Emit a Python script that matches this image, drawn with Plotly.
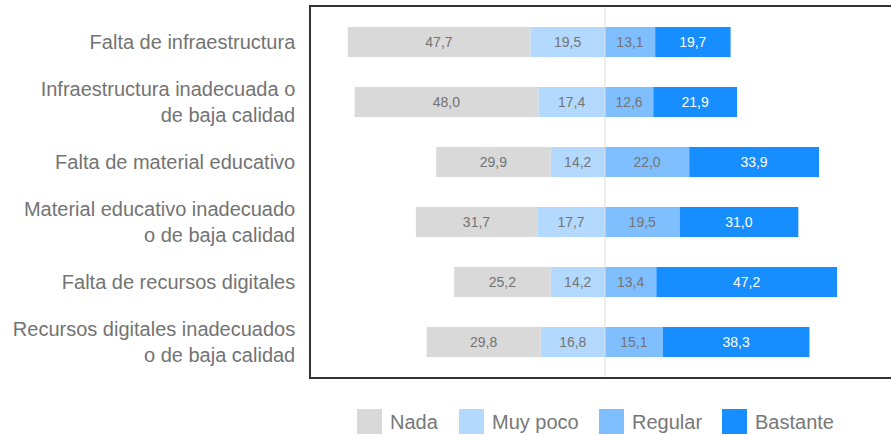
import plotly.graph_objects as go

categories = [
    "Falta de infraestructura",
    "Infraestructura inadecuada o<br>de baja calidad",
    "Falta de material educativo",
    "Material educativo inadecuado<br>o de baja calidad",
    "Falta de recursos digitales",
    "Recursos digitales inadecuados<br>o de baja calidad",
]
nada = [47.7, 48.0, 29.9, 31.7, 25.2, 29.8]
muy_poco = [19.5, 17.4, 14.2, 17.7, 14.2, 16.8]
regular = [13.1, 12.6, 22.0, 19.5, 13.4, 15.1]
bastante = [19.7, 21.9, 33.9, 31.0, 47.2, 38.3]

series_names = ["Nada", "Muy poco", "Regular", "Bastante"]
colors = {"Nada": "#d9d9d9", "Muy poco": "#b3d9ff", "Regular": "#80bfff", "Bastante": "#168eff"}
text_colors = {"Nada": "#737373", "Muy poco": "#737373", "Regular": "#737373", "Bastante": "#ffffff"}

W, H = 891, 435
M_L, M_R, M_T, M_B = 311, 0, 7, 58
FONT = "Liberation Sans, Arial, Helvetica, sans-serif"


def fmt(v):
    return f"{v:.1f}".replace(".", ",")


fig = go.Figure()
# negative side stacks outward from zero: "Muy poco" sits next to the axis, then "Nada"
for name, vals, sign in [("Muy poco", muy_poco, -1), ("Nada", nada, -1),
                         ("Regular", regular, 1), ("Bastante", bastante, 1)]:
    fig.add_trace(go.Bar(
        name=name,
        y=categories,
        x=[sign * v for v in vals],
        orientation="h",
        marker=dict(color=colors[name], line=dict(width=0)),
        text=[fmt(v) for v in vals],
        textposition="inside",
        insidetextanchor="middle",
        textfont=dict(size=14, color=text_colors[name], family=FONT),
        hoverinfo="skip",
        showlegend=False,
        width=0.5,
    ))

fig.update_layout(
    width=W, height=H,
    margin=dict(l=M_L, r=M_R, t=M_T, b=M_B),
    barmode="relative",
    plot_bgcolor="white",
    paper_bgcolor="white",
    font=dict(family=FONT, color="#737373"),
    uniformtext=dict(minsize=14, mode="show"),
)
fig.update_xaxes(
    range=[-76.8, 74.7],
    showgrid=False, zeroline=False, showticklabels=False, ticks="",
    showline=True, mirror=True, linecolor="#333333", linewidth=1.5,
)
fig.update_yaxes(
    range=[5.583, -0.583],
    showgrid=False, zeroline=False, ticks="",
    showline=True, linecolor="#333333", linewidth=1.5,
    tickfont=dict(size=20, color="#737373", family=FONT),
    ticklabelstandoff=10,
)

# center reference line
fig.add_shape(type="line", xref="x", yref="paper", x0=0, x1=0, y0=0, y1=1,
              line=dict(color="#dddddd", width=1), layer="above")

# legend drawn as squares and labels below the plot
pw = W - M_L - M_R
ph = H - M_T - M_B


def px_x(p):
    return (p - M_L) / pw


def px_y(p):
    return (H - M_B - p) / ph


legend_pos = {"Nada": 357, "Muy poco": 459, "Regular": 599, "Bastante": 722}
for name in series_names:
    x0 = legend_pos[name]
    fig.add_shape(type="rect", xref="paper", yref="paper",
                  x0=px_x(x0), x1=px_x(x0 + 25), y0=px_y(434), y1=px_y(409),
                  fillcolor=colors[name], line=dict(width=0))
    fig.add_annotation(xref="paper", yref="paper", x=px_x(x0 + 31), y=px_y(421.5),
                       text=name, showarrow=False, xanchor="left", yanchor="middle",
                       font=dict(size=20, color="#777777", family=FONT))

fig.write_html("out.html")
